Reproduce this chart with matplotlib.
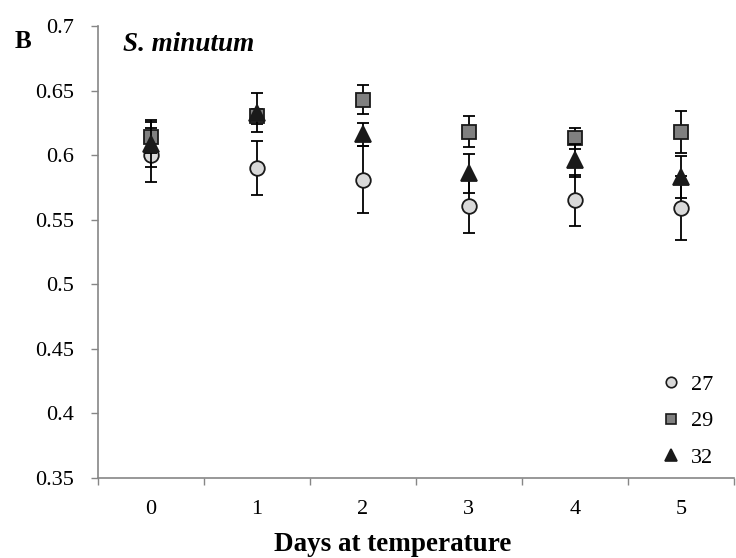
import matplotlib
matplotlib.use("Agg")
import matplotlib.pyplot as plt
from matplotlib.lines import Line2D
import numpy as np

plt.rcParams['font.family'] = ['Liberation Serif', 'DejaVu Serif']

days = [0, 1, 2, 3, 4, 5]
y_ticks = [0.35, 0.4, 0.45, 0.5, 0.55, 0.6, 0.65, 0.7]
y_tick_labels = ['0.35', '0.4', '0.45', '0.5', '0.55', '0.6', '0.65', '0.7']

# temperature series: mean and error
t27 = [0.600, 0.590, 0.581, 0.561, 0.565, 0.559]
t27_err = [0.021, 0.021, 0.026, 0.021, 0.020, 0.025]
t29 = [0.614, 0.630, 0.643, 0.618, 0.613, 0.618]
t29_err = [0.012, 0.006, 0.011, 0.012, 0.008, 0.016]
t32 = [0.609, 0.633, 0.616, 0.586, 0.596, 0.583]
t32_err = [0.018, 0.015, 0.009, 0.015, 0.013, 0.016]

fig = plt.figure(figsize=(7.36, 5.58), dpi=100)
ax = fig.add_axes([0.133, 0.1434, 0.864, 0.81])

series = [
    ('27', t27, t27_err, 'o', '#d9d9d9', 10.5),
    ('29', t29, t29_err, 's', '#808080', 10.5),
    ('32', t32, t32_err, '^', '#1a1a1a', 11.5),
]
handles = []
for i, (lab, vals, err, mk, col, ms) in enumerate(series):
    ax.errorbar(days, vals, yerr=err, fmt=mk, color='black', ecolor='black',
                elinewidth=1.3, capsize=4.5, capthick=1.6, markersize=ms,
                markerfacecolor=col, markeredgecolor='#1a1a1a', markeredgewidth=1.3,
                zorder=3 + i)
    handles.append(Line2D([], [], linestyle='', marker=mk, markersize=ms * 0.72,
                          markerfacecolor=col, markeredgecolor='#1a1a1a',
                          markeredgewidth=1.2, label=lab))

ax.set_xlim(-0.5, 5.5)
ax.set_ylim(0.35, 0.7)
ax.set_yticks(y_ticks)
ax.set_yticklabels(y_tick_labels, fontsize=16)
ax.set_xticks(days)
ax.set_xticklabels([str(d) for d in days], fontsize=16)
ax.tick_params(axis='x', length=0, pad=16)
ax.set_xticks(np.arange(-0.5, 6, 1), minor=True)
ax.tick_params(axis='x', which='minor', length=5, color='#868686', width=1)
ax.tick_params(axis='y', length=5, color='#868686', width=1, pad=12)

for s in ['top', 'right']:
    ax.spines[s].set_visible(False)
for s in ['left', 'bottom']:
    ax.spines[s].set_color('#868686')
    ax.spines[s].set_linewidth(1.2)

ax.legend(handles=handles, loc='lower right', frameon=False, fontsize=16,
          handletextpad=0.4, labelspacing=0.72, handlelength=1.0,
          bbox_to_anchor=(0.999, -0.022))

fig.text(0.02, 0.925, 'B', fontsize=18, fontweight='bold', va='center')
fig.text(0.167, 0.92, 'S. minutum', fontsize=19.5, fontweight='bold', style='italic', va='center')
fig.text(0.534, 0.025, 'Days at temperature', fontsize=19.5, fontweight='bold',
         ha='center', va='center')

fig.savefig('out.png', dpi=100)
